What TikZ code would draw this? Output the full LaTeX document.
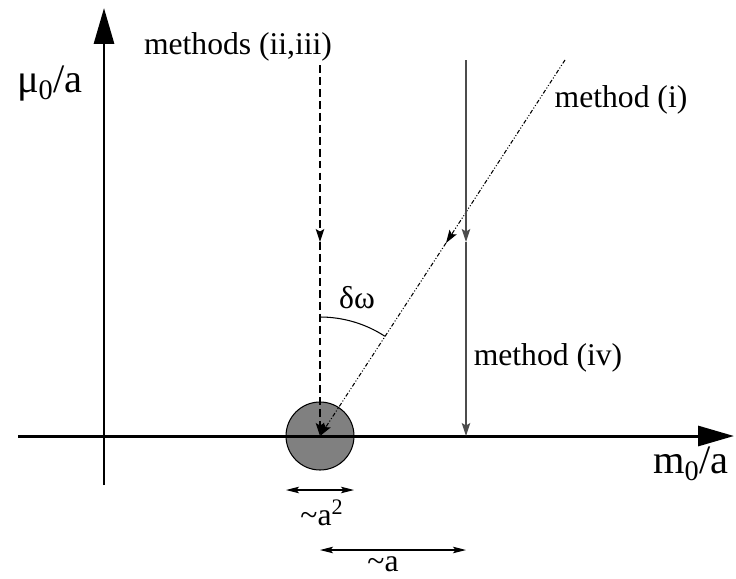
\documentclass[tikz,border=0pt]{standalone}
\usepackage{fontspec}
\setmainfont{Liberation Serif}
\usetikzlibrary{arrows.meta}

\begin{document}
\begin{tikzpicture}[x=0.02cm,y=-0.02cm,
  axis/.style={line width=1.7pt,-{Triangle[length=0.72cm,width=0.4cm]}},
  ray/.style={line width=0.6pt,-{Stealth[length=0.26cm,width=0.17cm,inset=0.05cm]}},
  dim/.style={line width=0.6pt,{Stealth[length=0.26cm,width=0.13cm,inset=0.05cm]}-{Stealth[length=0.26cm,width=0.13cm,inset=0.05cm]}},
  dashray/.style={ray,dash pattern=on 4.5pt off 2.3pt},
  dotray/.style={ray,dash pattern=on 2.3pt off 1.1pt on 0.6pt off 1.1pt on 0.6pt off 1.1pt},
  lbl/.style={font=\fontsize{18}{22}\selectfont},
  axlbl/.style={font=\fontsize{23}{28}\selectfont}]
\useasboundingbox (0,0) rectangle (736,578);
% spot and axes
\coordinate (o) at (320,436);
\fill[black!50] (o) circle (34);
\draw[line width=0.6pt] (o) circle (34);
\coordinate (xs) at (18,436);
\coordinate (xe) at (734,436);
\coordinate (ys) at (104,485);
\coordinate (ye) at (104,8);
\draw[axis] (xs) -- (xe);
\draw[axis] (ys) -- (ye);
\node[axlbl] (mu) at (50,84) {μ\textsubscript{0}/a};
\node[axlbl] (m0) at (691,464) {m\textsubscript{0}/a};
% methods (ii,iii)
\coordinate (d1) at (320,65);
\coordinate (d2) at (320,242);
\draw[dashray] (d1) -- (d2);
\draw[dashray] (d2) -- (o);
\node[lbl] (m23) at (238,47) {methods (ii,iii)};
% method (i)
\coordinate (s1) at (565,60);
\coordinate (s2) at (446,243);
\draw[dotray] (s1) -- (s2);
\draw[dotray] (s2) -- (o);
\node[lbl] (m1) at (621,100) {method (i)};
% method (iv)
\coordinate (v1) at (466,60);
\coordinate (v2) at (466,242);
\coordinate (v3) at (466,436);
\draw[ray,black!70] (v1) -- (v2);
\draw[ray,black!70] (v2) -- (v3);
\node[lbl] (m4) at (548,358) {method (iv)};
% angle
\draw[line width=0.6pt] (o) ++(-90:119) arc (-90:-57:119);
\node[lbl] (dw) at (357,298) {δω};
% sizes
\coordinate (a2l) at (286,490);
\coordinate (a2r) at (354,490);
\draw[dim] (a2l) -- (a2r);
\node[lbl] (sa2) at (322,513) {\textasciitilde a\textsuperscript{2}};
\coordinate (al) at (320,550);
\coordinate (ar) at (466,550);
\draw[dim] (al) -- (ar);
\node[lbl] (sa) at (383,564) {\textasciitilde a};
\end{tikzpicture}
\end{document}
